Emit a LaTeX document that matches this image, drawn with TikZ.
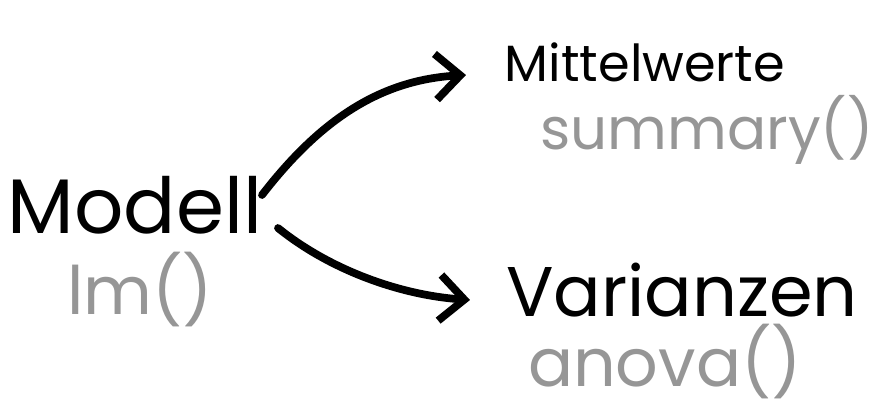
\documentclass[tikz,border=0pt]{standalone}
\usepackage{fontspec}
\setmainfont{Poppins}
\usetikzlibrary{arrows.meta}
\definecolor{codegray}{RGB}{150,150,150}
\tikzset{
  term/.style={font=\fontsize{22}{24}\selectfont, text=black, inner sep=0pt},
  func/.style={font=\fontsize{19}{22}\selectfont, text=codegray, inner sep=0pt},
  pfeil/.style={line width=2.2pt, line cap=round, -{Straight Barb[length=7pt,width=13pt]}}
}
\begin{document}
\begin{tikzpicture}
\useasboundingbox (0,0) rectangle (8.82,-4.15);
\node[term] (modell) at (1.35,-2.05) {Modell};
\node[func] (lm) at (1.40,-2.90) {lm()};
\node[term,font=\fontsize{14.5}{17}\selectfont] (mittel) at (6.45,-0.62) {Mittelwerte};
\node[func,font=\fontsize{16.5}{19}\selectfont] (summary) at (7.07,-1.30) {summary()};
\node[term,font=\fontsize{20}{22}\selectfont] (varianz) at (6.82,-2.90) {Varianzen};
\node[func] (anova) at (6.65,-3.62) {anova()};
\coordinate (m1) at (2.62,-1.95);
\coordinate (m2) at (2.78,-2.28);
\coordinate (e1) at (4.66,-0.75);
\coordinate (e2) at (4.70,-3.00);
\draw[pfeil] (m1) .. controls (3.2,-1.2) and (3.8,-0.8) .. (e1);
\draw[pfeil] (m2) .. controls (3.3,-2.7) and (4.0,-2.95) .. (e2);
\end{tikzpicture}
\end{document}
